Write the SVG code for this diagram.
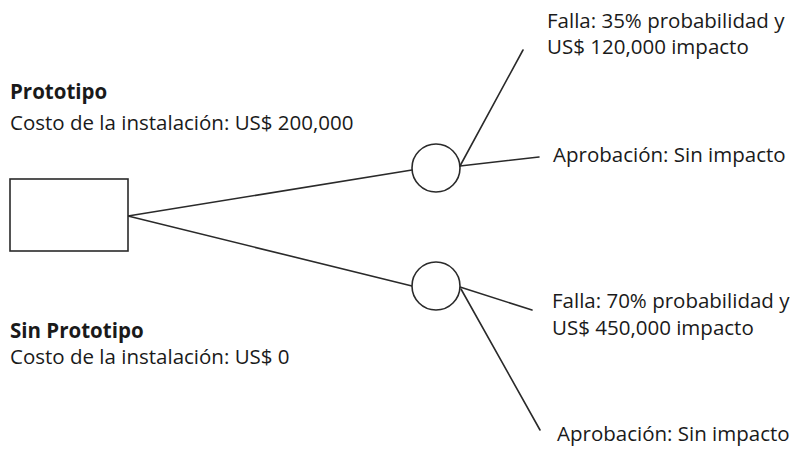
<svg xmlns="http://www.w3.org/2000/svg" width="792" height="449" viewBox="0 0 792 449">
<style>
text{font-family:"Open Sans","Noto Sans",sans-serif;font-size:20.5px;fill:#1a1a1a}
.b{font-weight:bold}
.n{fill:#fff;stroke:#2a2a2a;stroke-width:1.6}
.c line{stroke:#2a2a2a;stroke-width:1.6;stroke-linecap:round}
</style>
<rect width="792" height="449" fill="#fff"/>
<g id="labels-left">
<text x="10" y="99" class="b">Prototipo</text>
<text x="10" y="130">Costo de la instalación: US$ 200,000</text>
<text x="10" y="338" class="b">Sin Prototipo</text>
<text x="10" y="364">Costo de la instalación: US$ 0</text>
</g>
<g class="c" id="connectors">
<line x1="128" y1="216" x2="412" y2="170"/>
<line x1="128" y1="216" x2="412" y2="286"/>
<line x1="460" y1="166" x2="523" y2="50"/>
<line x1="460" y1="166" x2="539" y2="157"/>
<line x1="460" y1="287" x2="532" y2="310"/>
<line x1="461" y1="289" x2="540" y2="430"/>
</g>
<g id="decision"><rect class="n" x="10" y="179" width="118" height="72"/></g>
<g id="chance1"><circle class="n" cx="436" cy="168" r="24"/></g>
<g id="chance2"><circle class="n" cx="436" cy="286" r="24"/></g>
<g id="out1"><text x="547" y="28">Falla: 35% probabilidad y</text><text x="547" y="54">US$ 120,000 impacto</text></g>
<g id="out2"><text x="553" y="162">Aprobación: Sin impacto</text></g>
<g id="out3"><text x="552" y="308">Falla: 70% probabilidad y</text><text x="552" y="335">US$ 450,000 impacto</text></g>
<g id="out4"><text x="557" y="441">Aprobación: Sin impacto</text></g>
</svg>
